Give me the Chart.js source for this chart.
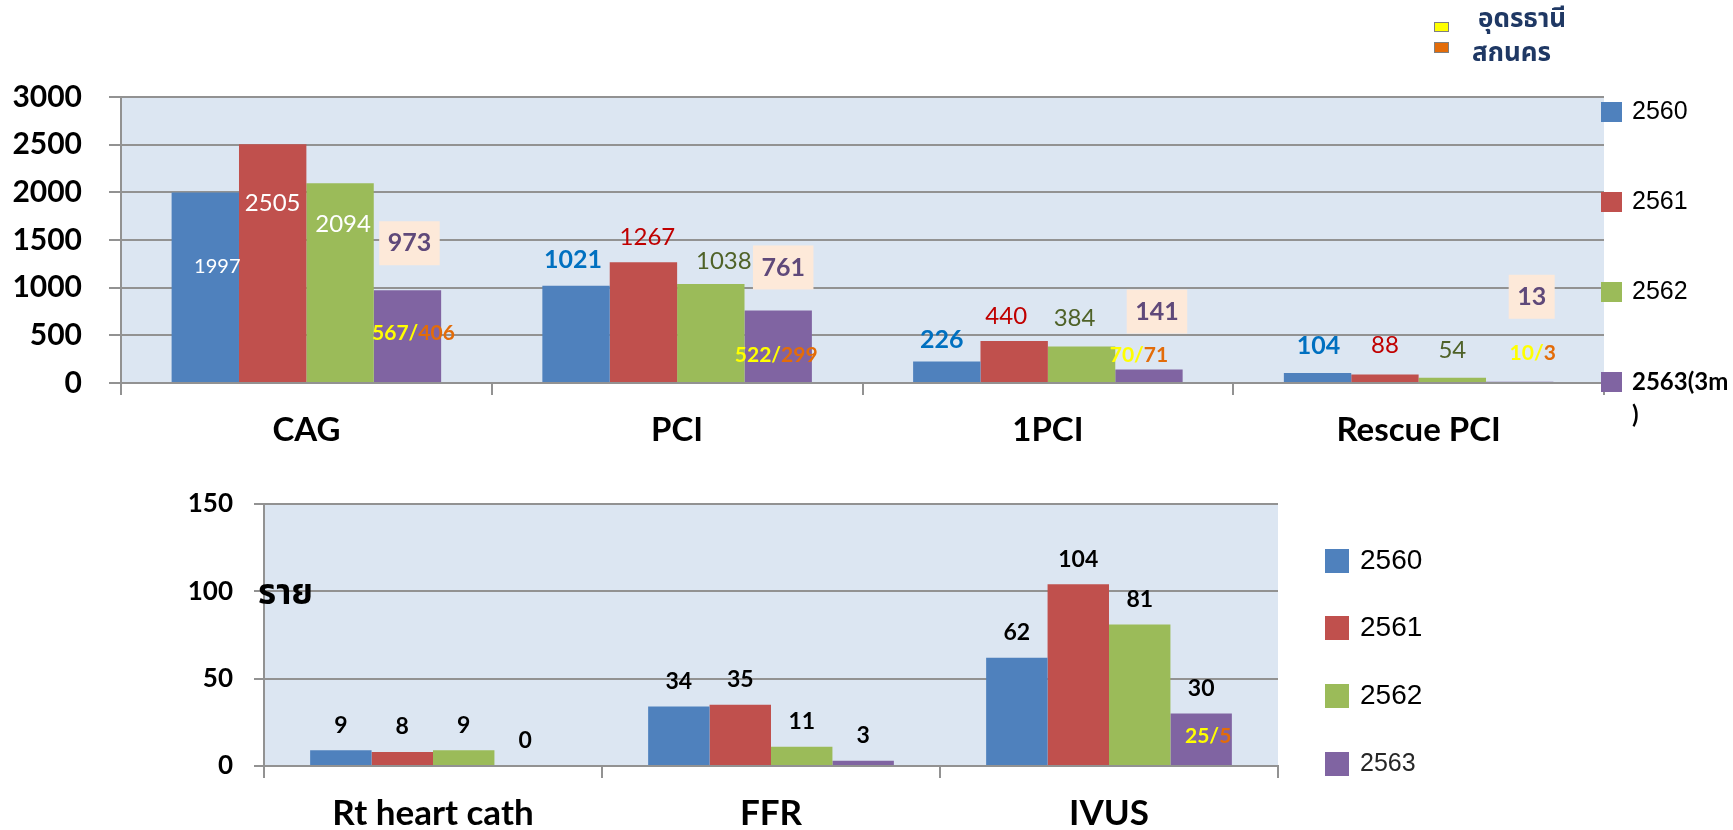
<!DOCTYPE html>
<html><head><meta charset="utf-8">
<script src="https://cdn.jsdelivr.net/npm/chart.js@4.4.1/dist/chart.umd.min.js"></script>
<style>
html,body{margin:0;padding:0;background:#fff;width:1733px;height:830px;overflow:hidden;}
#c1{position:absolute;left:0;top:0;}
#c2{position:absolute;left:0;top:450px;}
</style></head><body>
<canvas id="c1" width="1733" height="450"></canvas>
<canvas id="c2" width="1733" height="380"></canvas>
<script>
// ---------------- DATA ----------------
const topCategories = ['CAG', 'PCI', '1PCI', 'Rescue PCI'];
const topSeriesNames = ['2560', '2561', '2562', '2563(3m)'];
const top2560 = [1997, 1021, 226, 104];
const top2561 = [2505, 1267, 440, 88];
const top2562 = [2094, 1038, 384, 54];
const top2563 = [973, 761, 141, 13];
const topUdon = [567, 522, 70, 10];
const topSakon = [406, 299, 71, 3];
const topYTicks = [0, 500, 1000, 1500, 2000, 2500, 3000];

const bottomCategories = ['Rt heart cath', 'FFR', 'IVUS'];
const bottomSeriesNames = ['2560', '2561', '2562', '2563'];
const bottom2560 = [9, 34, 62];
const bottom2561 = [8, 35, 104];
const bottom2562 = [9, 11, 81];
const bottom2563 = [0, 3, 30];
const bottomUdon = [null, null, 25];
const bottomSakon = [null, null, 5];
const bottomYTicks = [0, 50, 100, 150];

const provinceNames = ['อุดรธานี', 'สกนคร'];
const unitLabel = 'ราย';

// ---------------- STYLE ----------------
const SERIES_COLORS = ['#4F81BD', '#C0504D', '#9BBB59', '#8064A2'];
const PLOT_BG = '#DCE6F2';
const GRID = '#929292';
const YELLOW = '#FFFF00';
const ORANGE = '#E36C09';
const LAT = "Lato, 'Noto Sans', sans-serif";
const THAI = "'Noto Sans Thai', 'Noto Sans Thai UI', Loma, Garuda, 'Tlwg Typo', Lato, 'DejaVu Sans', sans-serif";
const ARIAL = "'Liberation Sans', Arial, sans-serif";

const TXT = {
  whiteS: {font: 'normal 20px ' + LAT, color: '#FFFFFF'},
  white: {font: 'normal 24px ' + LAT, color: '#FFFFFF'},
  blue: {font: 'bold 25px ' + LAT, color: '#0070C0'},
  red: {font: 'normal 24px ' + LAT, color: '#C00000'},
  green: {font: 'normal 24px ' + LAT, color: '#4F6228'},
  box: {font: 'bold 25px ' + LAT, color: '#5F497A', bg: '#FDE9D9'},
  black: {font: 'bold 23px ' + LAT, color: '#000000'}
};
// offsets of value labels relative to each bar's top centre (pixels)
const TOP_LABEL_LAYOUT = [
  {dx: [12, -3, -5, 1], dy: [74, -26, -22, -27], style: ['whiteS', 'blue', 'blue', 'blue']},
  {dx: [0, 4, -8, 0], dy: [59, -25, -25, -29], style: ['white', 'red', 'red', 'red']},
  {dx: [3, 13, -7, 0], dy: [41, -23, -28, -28], style: ['white', 'green', 'green', 'green']},
  {dx: [2, 5, 8, 12], dy: [-47, -43, -58, -85], style: ['box', 'box', 'box', 'box']}
];
const TOP_SPLIT_LAYOUT = {dx: [6, -2, -10, 13], dy: [43, 45, -14, -29], font: 'bold 21px ' + LAT};
const BOTTOM_LABEL_DY = -25;
const BOTTOM_SPLIT_LAYOUT = {dx: 7, dy: 23, font: 'bold 21px ' + LAT};

// ---------------- HELPERS ----------------
function textAt(ctx, s, x, y, font, color, align) {
  ctx.save();
  ctx.font = font; ctx.fillStyle = color;
  ctx.textAlign = align || 'center'; ctx.textBaseline = 'middle';
  ctx.fillText(s, x, y);
  ctx.restore();
}
function splitText(ctx, a, b, x, y, font) {
  ctx.save();
  ctx.font = font; ctx.textBaseline = 'middle'; ctx.textAlign = 'left';
  const p1 = a + '/', p2 = String(b);
  const w1 = ctx.measureText(p1).width, w2 = ctx.measureText(p2).width;
  const x0 = x - (w1 + w2) / 2;
  ctx.fillStyle = YELLOW; ctx.fillText(p1, x0, y);
  ctx.fillStyle = ORANGE; ctx.fillText(p2, x0 + w1, y);
  ctx.restore();
}
function wrapChars(ctx, s, maxW) {
  const lines = []; let cur = '';
  for (const ch of s) {
    if (cur && ctx.measureText(cur + ch).width > maxW) { lines.push(cur); cur = ch; }
    else cur += ch;
  }
  if (cur) lines.push(cur);
  return lines;
}
const bgPlugin = {
  id: 'plotBg',
  beforeDraw(chart) {
    const {ctx, chartArea: a} = chart;
    ctx.save(); ctx.fillStyle = PLOT_BG;
    ctx.fillRect(a.left, a.top, a.right - a.left, a.bottom - a.top);
    ctx.restore();
  }
};

function makeScales(opts) {
  return {
    x: {
      offset: true,
      grid: {display: true, drawOnChartArea: false, drawTicks: true, tickLength: 12, offset: true, color: GRID, lineWidth: 2},
      border: {display: true, color: GRID, width: 2},
      ticks: {font: {family: LAT, size: opts.xFont, weight: 'bold'}, color: '#000', padding: opts.xPad, maxRotation: 0, autoSkip: false},
      afterFit(s) { s.height = opts.xHeight; }
    },
    y: {
      min: opts.yTicks[0], max: opts.yTicks[opts.yTicks.length - 1],
      afterBuildTicks(s) { s.ticks = opts.yTicks.map(v => ({value: v})); },
      grid: {display: true, drawTicks: true, tickLength: opts.yTickLen, color: GRID, lineWidth: 2},
      border: {display: true, color: GRID, width: 2},
      ticks: {font: {family: LAT, size: opts.yFont, weight: 'bold'}, color: '#000', padding: opts.yPad,
        callback: v => String(v)},
      afterFit(s) { s.width = opts.yWidth; }
    }
  };
}

function build() {
  Chart.defaults.devicePixelRatio = 1;
  // -------- TOP CHART --------
  const topData = [top2560, top2561, top2562, top2563];
  new Chart(document.getElementById('c1'), {
    type: 'bar',
    data: {
      labels: topCategories,
      datasets: topData.map((d, i) => ({
        label: topSeriesNames[i], data: d, backgroundColor: SERIES_COLORS[i],
        borderWidth: 0, categoryPercentage: 0.727, barPercentage: 1.0
      }))
    },
    options: {
      responsive: false, animation: false,
      layout: {padding: {left: 0, top: 97, right: 129, bottom: 0}},
      plugins: {legend: {display: false}, tooltip: {enabled: false}},
      scales: makeScales({xFont: 33, xPad: 16, xHeight: 67, yTicks: topYTicks, yTickLen: 12, yFont: 30, yPad: 27, yWidth: 121})
    },
    plugins: [bgPlugin, {
      id: 'topLabels',
      afterDatasetsDraw(chart) {
        const ctx = chart.ctx;
        topData.forEach((d, di) => {
          const meta = chart.getDatasetMeta(di);
          const L = TOP_LABEL_LAYOUT[di];
          d.forEach((v, ci) => {
            const el = meta.data[ci];
            const x = el.x + L.dx[ci], y = el.y + L.dy[ci];
            const st = TXT[L.style[ci]];
            if (st.bg) {
              ctx.save(); ctx.font = st.font;
              const w = ctx.measureText(String(v)).width + 17;
              ctx.fillStyle = st.bg; ctx.fillRect(x - w / 2, y - 22, w, 44);
              ctx.restore();
            }
            textAt(ctx, String(v), x, y, st.font, st.color);
          });
        });
        const meta3 = chart.getDatasetMeta(3);
        topUdon.forEach((u, ci) => {
          const el = meta3.data[ci];
          splitText(ctx, u, topSakon[ci], el.x + TOP_SPLIT_LAYOUT.dx[ci], el.y + TOP_SPLIT_LAYOUT.dy[ci], TOP_SPLIT_LAYOUT.font);
        });
      },
      afterDraw(chart) {
        const ctx = chart.ctx;
        // series legend on the right
        topSeriesNames.forEach((n, i) => {
          const top = 102 + i * 90;
          ctx.fillStyle = SERIES_COLORS[i];
          ctx.fillRect(1601, top, 21, 20);
          const last = i === topSeriesNames.length - 1;
          const font = last ? 'bold 24px ' + LAT : 'normal 25px ' + ARIAL;
          ctx.save(); ctx.font = font;
          const lines = wrapChars(ctx, n, 1733 - 1632 - 1);
          ctx.restore();
          lines.forEach((ln, k) => textAt(ctx, ln, 1632, top + 10 + k * 33, font, '#000', 'left'));
        });
        // province legend
        const sq = [[1434, 22, 15, 10, YELLOW], [1434, 42, 15, 11, ORANGE]];
        sq.forEach(([x, y, w, h, c]) => {
          ctx.fillStyle = c; ctx.fillRect(x, y, w, h);
          ctx.strokeStyle = '#7F7F7F'; ctx.lineWidth = 1; ctx.strokeRect(x + 0.5, y + 0.5, w - 1, h - 1);
        });
        textAt(ctx, provinceNames[0], 1478, 22, 'bold 26px ' + THAI, '#1F3864', 'left');
        textAt(ctx, provinceNames[1], 1472, 56, 'bold 26px ' + THAI, '#1F3864', 'left');
      }
    }]
  });

  // -------- BOTTOM CHART --------
  const botData = [bottom2560, bottom2561, bottom2562, bottom2563];
  new Chart(document.getElementById('c2'), {
    type: 'bar',
    data: {
      labels: bottomCategories,
      datasets: botData.map((d, i) => ({
        label: bottomSeriesNames[i], data: d, backgroundColor: SERIES_COLORS[i],
        borderWidth: 0, categoryPercentage: 0.727, barPercentage: 1.0
      }))
    },
    options: {
      responsive: false, animation: false,
      layout: {padding: {left: 0, top: 54, right: 455, bottom: 0}},
      plugins: {legend: {display: false}, tooltip: {enabled: false}},
      scales: makeScales({xFont: 35, xPad: 15, xHeight: 64, yTicks: bottomYTicks, yTickLen: 10, yFont: 26, yPad: 21, yWidth: 264})
    },
    plugins: [bgPlugin, {
      id: 'botLabels',
      afterDatasetsDraw(chart) {
        const ctx = chart.ctx;
        botData.forEach((d, di) => {
          const meta = chart.getDatasetMeta(di);
          d.forEach((v, ci) => {
            const el = meta.data[ci];
            textAt(ctx, String(v), el.x, el.y + BOTTOM_LABEL_DY, TXT.black.font, TXT.black.color);
          });
        });
        const meta3 = chart.getDatasetMeta(3);
        bottomUdon.forEach((u, ci) => {
          if (u === null) return;
          const el = meta3.data[ci];
          splitText(ctx, u, bottomSakon[ci], el.x + BOTTOM_SPLIT_LAYOUT.dx, el.y + BOTTOM_SPLIT_LAYOUT.dy, BOTTOM_SPLIT_LAYOUT.font);
        });
      },
      afterDraw(chart) {
        const ctx = chart.ctx;
        textAt(ctx, unitLabel, 258, 147, 'bold 35px ' + THAI, '#000', 'left');
        bottomSeriesNames.forEach((n, i) => {
          const top = [99, 166, 234, 302][i];
          ctx.fillStyle = SERIES_COLORS[i];
          ctx.fillRect(1325, top, 24, 24);
          const last = i === bottomSeriesNames.length - 1;
          textAt(ctx, n, 1360, top + 12, last ? 'normal 25px ' + ARIAL : 'normal 28px ' + ARIAL, last ? '#262626' : '#000', 'left');
        });
      }
    }]
  });
}
const fontLoads = ['bold 20px Lato', 'normal 20px Lato', '20px "Liberation Sans"'].map(f => document.fonts.load(f).catch(() => null));
Promise.all(fontLoads).then(build, build);
</script>
</body></html>
